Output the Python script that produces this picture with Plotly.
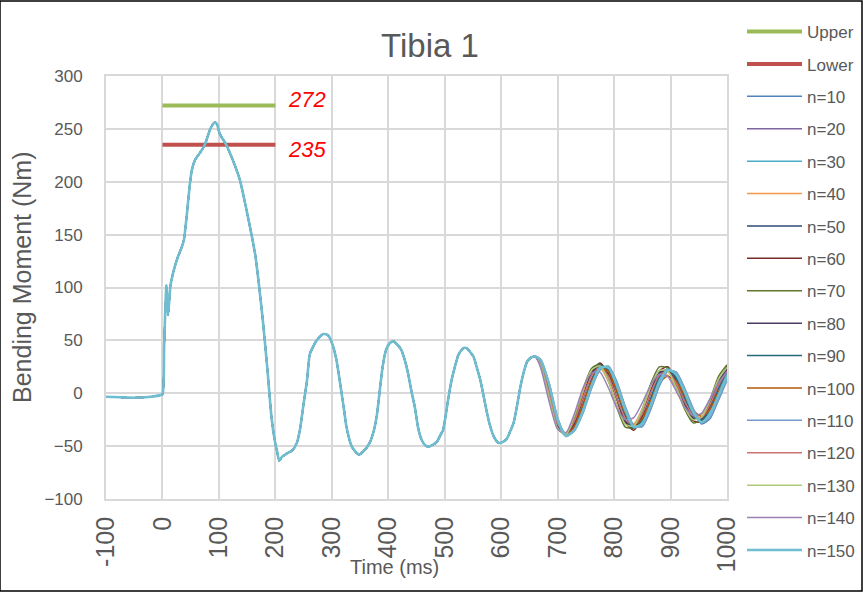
import plotly.graph_objects as go

# ---------------- data ----------------
TIME_BASE = [-100, -75, -50, -25, -5, 0, 3, 7, 10, 14, 18, 22, 26, 34, 38, 43, 48, 52, 58, 66,
             75, 84, 90, 94, 97, 101, 106, 111, 118, 125, 137, 149, 157, 164, 170, 178, 186,
             193, 199, 203, 207, 212, 220, 230, 238, 244, 250, 256, 261, 266, 272, 278, 285,
             293, 300, 308, 317, 322, 326, 335, 343, 348, 356, 367, 375, 380, 385, 390, 396,
             403, 410, 416, 423, 430, 435, 441, 447, 453, 459, 465, 471, 478, 486, 492, 497,
             502, 506, 512, 518, 524, 530, 535, 539, 545, 551, 557, 563, 569, 575, 581, 587,
             593, 597, 603, 610, 616, 622, 628, 634, 640, 646, 651, 656, 660]
MOMENT_BASE = [-3.3, -3.8, -4.3, -3.5, -2.0, -1.0, 45, 102, 74, 101, 112, 120, 127, 138, 145, 168,
               195, 211, 221, 227, 235, 249, 255, 256, 254, 246, 241, 237, 229, 220, 202, 173,
               152, 132, 107, 68, 22, -22, -45, -55, -64, -60, -57, -54, -47, -33, -10, 12, 37,
               43, 49, 53, 56, 55, 48, 32, 1, -17, -32, -50, -56, -58, -55, -47, -34, -20, 3,
               25, 41, 47.5, 49, 46, 41, 30, 19, 2, -13, -33, -44, -49, -50.5, -49, -46, -40,
               -35, -20, -6, 12, 25, 36, 41, 43, 42.6, 39, 34.5, 24, 12.5, -3, -19, -32, -41,
               -46, -47, -46, -43, -36, -28, -12, 6, 20, 30, 33, 34.5, 35]

TIME_TAIL = [670, 685, 700, 715, 730, 745, 760, 775, 790, 805, 820, 835, 850, 865, 880, 895,
             910, 925, 940, 955, 970, 985, 1000]

TAIL_N10 = [32, 9, -24, -40.5, -35, -18, 5, 22, 25.5, 10, -13.5, -31, -31.5, -15, 7, 21.5, 20, 4, -16, -29, -24, -6, 13]
TAIL_N20 = [30.5, 5, -26, -40, -32, -11, 12.5, 26, 22, 2, -21.5, -33, -25.5, -5.5, 15, 23, 14.5, -4, -21, -26, -15, 4, 21]
TAIL_N30 = [31, 6.5, -25, -40, -33.5, -13.5, 10.5, 25.5, 23, 4, -19.5, -32.5, -27, -8, 13, 22.5, 16, -1.5, -19.5, -26.5, -18, 1, 19]
TAIL_N40 = [27, -2, -32, -39, -23, 1, 20, 24, 11, -11, -27, -29, -15, 5, 18, 17, 5, -11, -22, -20, -6, 11, 21]
TAIL_N50 = [28.5, 0, -30.5, -39.5, -27.5, -4, 18, 27, 17.5, -5, -26.5, -33, -21, 0.5, 18.5, 22.5, 10.5, -8.5, -23.5, -25, -11.5, 8, 22.5]
TAIL_N60 = [29, 1, -30, -40.5, -29, -5, 19, 28.5, 19, -5, -28, -35, -22, 1, 21, 25, 12, -9, -26, -27, -12, 9.5, 25.5]
TAIL_N70 = [26.5, -3.5, -33.5, -39.5, -22.5, 4, 23.5, 27.5, 12, -13.5, -32, -32.5, -15, 9, 25, 24, 6, -15, -28, -25, -6, 16, 27]
TAIL_N80 = [28, -0.5, -31, -39.5, -27, -3.5, 18.5, 27, 17, -6, -27, -32.5, -20, 2, 19.5, 22, 9.5, -10, -24, -24, -9.5, 10.5, 24]
TAIL_N90 = [30, 4, -27, -40, -31.5, -10.5, 13, 26.5, 21.5, 1, -22, -33, -25, -4.5, 15.5, 23, 14, -4.5, -21.5, -25.5, -14.5, 4.5, 21]
TAIL_N100 = [30.5, 5, -26.5, -39.5, -31, -11, 11, 24, 20, 2, -19, -30, -24, -7, 10, 16, 11, -2, -16, -22, -15, 1, 16]
TAIL_N110 = [32, 9.5, -23, -40.5, -35.5, -19, 4.5, 22.5, 25.5, 11, -12.5, -30, -31, -15, 6.5, 21, 20, 5, -14, -27.5, -23, -6.5, 12]
TAIL_N120 = [28, 0, -29, -38, -26, -4, 16.5, 24.5, 16, -5, -24, -30, -19.5, 0.5, 17, 20.5, 9.5, -8, -21, -23, -10.5, 8, 21]
TAIL_N130 = [26, -4, -33, -39, -21, 3.5, 22, 26, 11.5, -12, -29.5, -31, -15, 7, 21.5, 21, 5.5, -13.5, -25, -22.5, -6, 13.5, 24.5]
TAIL_N140 = [24, -8, -34, -37, -19, 5, 19, 20, 5, -14, -25, -23, -9, 8, 18, 16, 2, -13, -21, -19, -5, 10, 20]
TAIL_N150 = [31.5, 8, -25, -40.5, -34.5, -16.5, 7, 24, 24.5, 7.5, -16, -32, -29, -11, 10, 22.5, 18, 1.5, -17.5, -27.5, -20, -2, 16]

SERIES_LABELS = ["n=10", "n=20", "n=30", "n=40", "n=50", "n=60", "n=70", "n=80",
                 "n=90", "n=100", "n=110", "n=120", "n=130", "n=140", "n=150"]
SERIES_TAILS = [TAIL_N10, TAIL_N20, TAIL_N30, TAIL_N40, TAIL_N50, TAIL_N60, TAIL_N70, TAIL_N80,
                TAIL_N90, TAIL_N100, TAIL_N110, TAIL_N120, TAIL_N130, TAIL_N140, TAIL_N150]
SERIES_COLORS = ["#4F81BD", "#8064A2", "#4BACC6", "#F79646", "#2C4D75", "#772C2A", "#5F7530",
                 "#4D3B62", "#276A7C", "#B65708", "#729ACA", "#CD7371", "#AFC97A", "#9983B5",
                 "#6FBDD1"]

LIMIT_X = [0, 200]
UPPER_Y = [272, 272]
LOWER_Y = [235, 235]

X_TICKS = [-100, 0, 100, 200, 300, 400, 500, 600, 700, 800, 900, 1000]
Y_TICKS = [-100, -50, 0, 50, 100, 150, 200, 250, 300]

# ---------------- styling ----------------
FONT = "Liberation Sans, Arial, sans-serif"
TXT = "#595959"
GRID = "#D9D9D9"

fig = go.Figure()

fig.add_trace(go.Scatter(x=LIMIT_X, y=UPPER_Y, mode="lines", name="Upper",
                         line=dict(color="#9BBB59", width=4), legendgroup="u"))
fig.add_trace(go.Scatter(x=LIMIT_X, y=LOWER_Y, mode="lines", name="Lower",
                         line=dict(color="#C0504D", width=4), legendgroup="l"))

for label, tail, color in zip(SERIES_LABELS, SERIES_TAILS, SERIES_COLORS):
    width = 2.6 if label == "n=150" else 1.5
    fig.add_trace(go.Scatter(
        x=TIME_BASE + TIME_TAIL, y=MOMENT_BASE + tail, mode="lines", name=label,
        line=dict(color=color, width=width, shape="spline", smoothing=0.6),
        legendgroup=label))

for yv, shift in ((UPPER_Y[-1], 6), (LOWER_Y[-1], -5)):
    fig.add_annotation(x=LIMIT_X[-1], y=yv, text=str(yv), showarrow=False,
                       xanchor="left", yanchor="middle", xshift=11, yshift=shift,
                       font=dict(family=FONT, size=22, color="#FF0000", style="italic"))

# axis titles placed as in the reference
fig.add_annotation(xref="paper", yref="paper", x=(394 - 106) / 621, y=(499 - 567) / 423,
                   text="Time (ms)", showarrow=False, xanchor="center", yanchor="middle",
                   font=dict(family=FONT, size=20, color=TXT))
fig.add_annotation(xref="paper", yref="paper", x=(22 - 106) / 621, y=(499 - 278) / 423,
                   text="Bending Moment (Nm)", showarrow=False, textangle=-90,
                   xanchor="center", yanchor="middle",
                   font=dict(family=FONT, size=25, color=TXT))

# black outer frame
fig.add_shape(type="rect", xref="paper", yref="paper",
              x0=-106 / 621, x1=(862 - 106) / 621, y0=(499 - 591) / 423, y1=(499 - 1) / 423,
              line=dict(color="black", width=1.5), fillcolor="rgba(0,0,0,0)", layer="above")

fig.update_layout(
    width=863, height=592,
    margin=dict(l=106, r=136, t=76, b=93, autoexpand=False),
    paper_bgcolor="white", plot_bgcolor="white",
    title=dict(text="Tibia 1", x=430 / 863, xanchor="center", y=1 - 45 / 592, yanchor="middle",
               xref="container", yref="container",
               font=dict(family=FONT, size=33, color=TXT)),
    showlegend=True,
    legend=dict(x=(742 - 106) / 621, xanchor="left", y=(499 - 14) / 423, yanchor="top",
                font=dict(family=FONT, size=17, color=TXT),
                traceorder="grouped", tracegroupgap=7.3, itemwidth=55, maxheight=590,
                bgcolor="rgba(0,0,0,0)", borderwidth=0),
    xaxis=dict(range=[-100, 1000], tickmode="array", tickvals=X_TICKS,
               ticktext=[str(v) for v in X_TICKS], tickangle=-90,
               showgrid=True, gridcolor=GRID, gridwidth=1.8, zeroline=False,
               showline=True, linecolor=GRID, linewidth=1.8, mirror=True,
               ticks="", ticklabelstandoff=6,
               tickfont=dict(family=FONT, size=25, color=TXT)),
    yaxis=dict(range=[-100, 300], tickmode="array", tickvals=Y_TICKS,
               showgrid=True, gridcolor=GRID, gridwidth=1.8, zeroline=False,
               showline=True, linecolor=GRID, linewidth=1.8, mirror=True,
               ticks="", ticklabelstandoff=18,
               tickfont=dict(family=FONT, size=17, color=TXT)),
)

fig.write_html("out.html", config={"displayModeBar": False},
               post_script="document.body.style.margin='0';document.body.style.overflow='hidden';")
